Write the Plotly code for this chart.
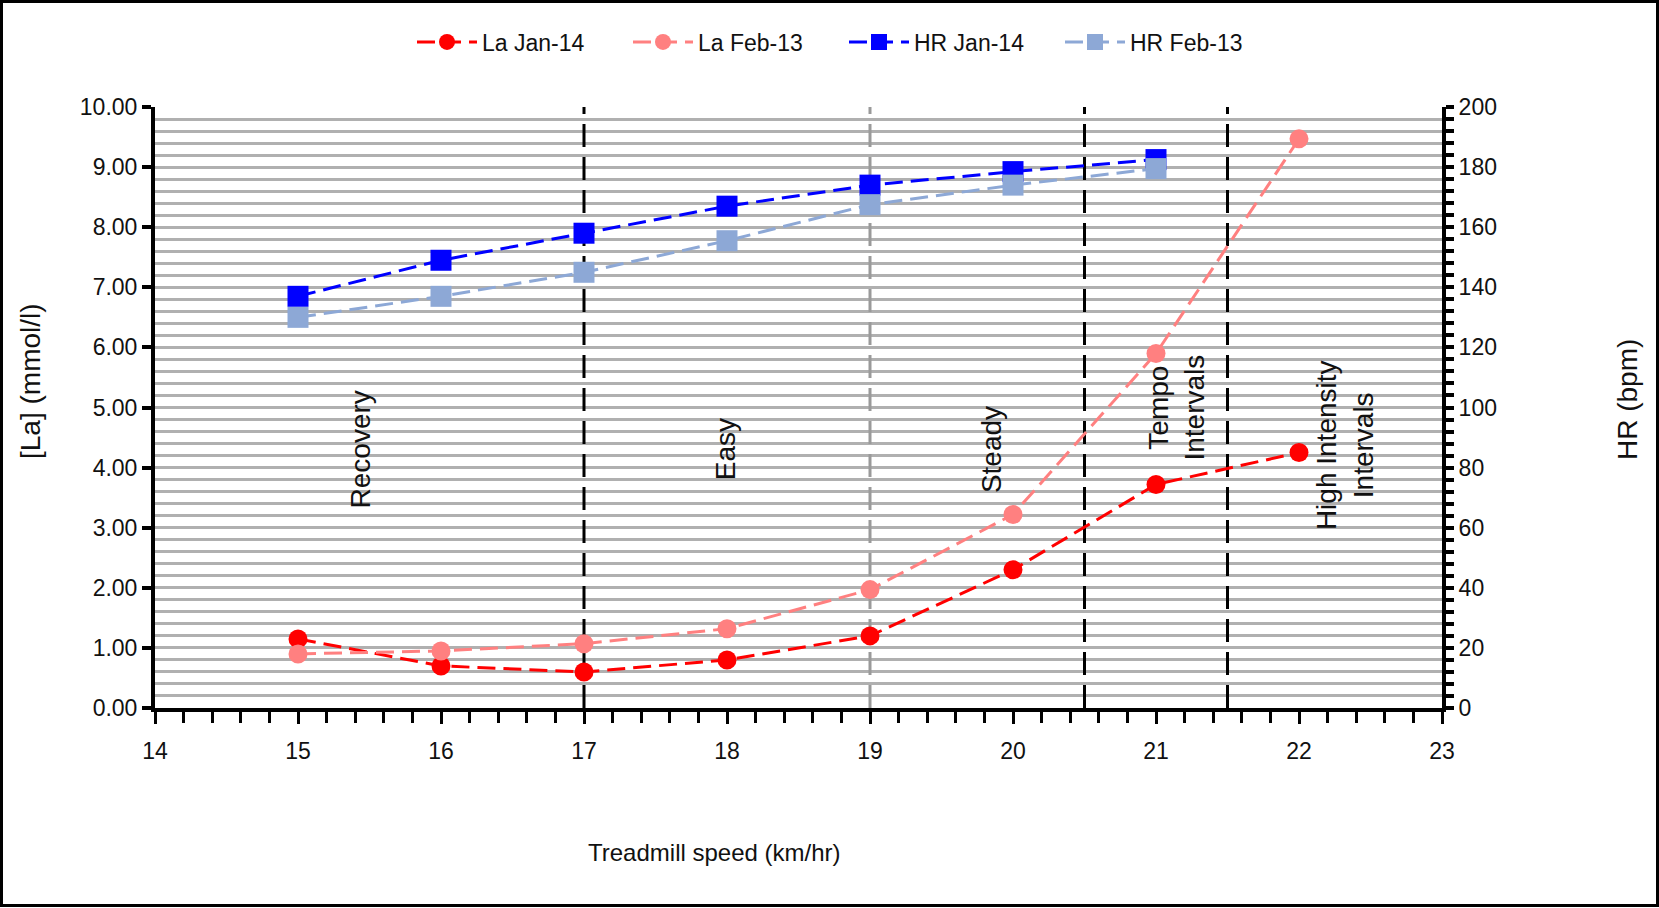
import plotly.graph_objects as go

# ---- data ----
speed = [15, 16, 17, 18, 19, 20, 21, 22]
la_jan14 = [1.15, 0.70, 0.60, 0.80, 1.20, 2.30, 3.72, 4.25]
la_feb13 = [0.90, 0.95, 1.07, 1.32, 1.97, 3.22, 5.90, 9.47]
hr_speed = [15, 16, 17, 18, 19, 20, 21]
hr_jan14 = [137, 149, 158, 167, 174, 178.5, 182.5]
hr_feb13 = [130, 137, 145, 155.5, 167.5, 174, 179.5]

zone_bounds = [17, 19, 20.5, 21.5]
zone_bound_colors = ["#000000", "#9a9a9a", "#000000", "#000000"]
zone_labels = ["Recovery", "Easy", "Steady", "Tempo<br>Intervals", "High Intensity<br>Intervals"]
zone_label_x = [15.44, 17.99, 19.85, 21.14, 22.32]
zone_label_y = [4.3, 4.3, 4.3, 5.0, 4.37]

FONT = "Liberation Sans, Arial, sans-serif"
dash = "18px,8px"

fig = go.Figure()
fig.add_trace(go.Scatter(x=speed, y=la_jan14, name="La Jan-14", mode="lines+markers",
                         line=dict(color="#ff0000", width=3, dash=dash),
                         marker=dict(color="#ff0000", size=19, symbol="circle")))
fig.add_trace(go.Scatter(x=speed, y=la_feb13, name="La Feb-13", mode="lines+markers",
                         line=dict(color="#ff8080", width=3, dash=dash),
                         marker=dict(color="#ff8080", size=19, symbol="circle")))
fig.add_trace(go.Scatter(x=hr_speed, y=hr_jan14, name="HR Jan-14", mode="lines+markers", yaxis="y2",
                         line=dict(color="#0000ff", width=3, dash=dash),
                         marker=dict(color="#0000ff", size=21, symbol="square")))
fig.add_trace(go.Scatter(x=hr_speed, y=hr_feb13, name="HR Feb-13", mode="lines+markers", yaxis="y2",
                         line=dict(color="#8da8d6", width=3, dash=dash),
                         marker=dict(color="#8da8d6", size=21, symbol="square")))

shapes = []
for xb, c in zip(zone_bounds, zone_bound_colors):
    shapes.append(dict(type="line", xref="x", yref="y", x0=xb, x1=xb, y0=0, y1=10,
                       line=dict(color=c, width=3, dash="23px,10px"), layer="between"))
# outer frame
shapes.append(dict(type="rect", xref="paper", yref="paper",
                   x0=(1.5 - 155) / 1287, x1=(1657.5 - 155) / 1287,
                   y0=(708 - 905.5) / 601, y1=(708 - 1.5) / 601,
                   line=dict(color="#000000", width=3), layer="above"))

annotations = []
for t, xx, yy in zip(zone_labels, zone_label_x, zone_label_y):
    annotations.append(dict(x=xx, y=yy, xref="x", yref="y", text=t, textangle=-90,
                            xanchor="center", yanchor="middle",
                            showarrow=False, font=dict(family=FONT, size=28, color="#111111"),
                            align="center"))
annotations.append(dict(x=(714 - 155) / 1287, y=(708 - 852) / 601, xref="paper", yref="paper",
                        xanchor="center", yanchor="middle",
                        text="Treadmill speed (km/hr)", showarrow=False,
                        font=dict(family=FONT, size=24, color="#111111")))
annotations.append(dict(x=(30 - 155) / 1287, y=(708 - 381) / 601, xref="paper", yref="paper",
                        xanchor="center", yanchor="middle",
                        text="[La] (mmol/l)", textangle=-90, showarrow=False,
                        font=dict(family=FONT, size=28, color="#111111")))
annotations.append(dict(x=(1627 - 155) / 1287, y=(708 - 400) / 601, xref="paper", yref="paper",
                        xanchor="center", yanchor="middle",
                        text="HR (bpm)", textangle=-90, showarrow=False,
                        font=dict(family=FONT, size=28, color="#111111")))

grid_c = "#b0b0b0"
fig.update_layout(
    width=1659, height=908,
    margin=dict(l=155, r=217, t=107, b=200),
    paper_bgcolor="white", plot_bgcolor="white",
    font=dict(family=FONT, size=23, color="#111111"),
    showlegend=True,
    legend=dict(orientation="h", x=(412 - 155) / 1287, xanchor="left",
                y=(708 - 42) / 601, yanchor="middle",
                entrywidth=141, entrywidthmode="pixels", itemwidth=60,
                font=dict(family=FONT, size=23, color="#111111"),
                bgcolor="rgba(0,0,0,0)"),
    xaxis=dict(range=[14, 23], dtick=1, tick0=14, showgrid=False, zeroline=False,
               showline=True, linecolor="black", linewidth=4,
               ticks="outside", ticklen=12, tickwidth=3, tickcolor="black",
               ticklabelstandoff=7,
               minor=dict(dtick=0.2, ticks="outside", ticklen=11, tickwidth=3, tickcolor="black",
                          showgrid=False)),
    yaxis=dict(range=[0, 10], dtick=1, tick0=0, tickformat=".2f", zeroline=False,
               showline=True, linecolor="black", linewidth=4,
               ticks="outside", ticklen=9, tickwidth=4, tickcolor="black",
               showgrid=True, gridcolor=grid_c, gridwidth=3,
               minor=dict(dtick=0.2, showgrid=True, gridcolor=grid_c, gridwidth=3, ticks="")),
    yaxis2=dict(range=[0, 200], dtick=20, tick0=0, overlaying="y", side="right",
                showgrid=False, zeroline=False,
                showline=True, linecolor="black", linewidth=4,
                ticks="outside", ticklen=8, tickwidth=4, tickcolor="black",
                minor=dict(dtick=4, ticks="outside", ticklen=8, tickwidth=4, tickcolor="black",
                           showgrid=False)),
    shapes=shapes,
    annotations=annotations,
)

fig.write_html("out.html", config={"displayModeBar": False},
               post_script="document.body.style.margin='0px';")
